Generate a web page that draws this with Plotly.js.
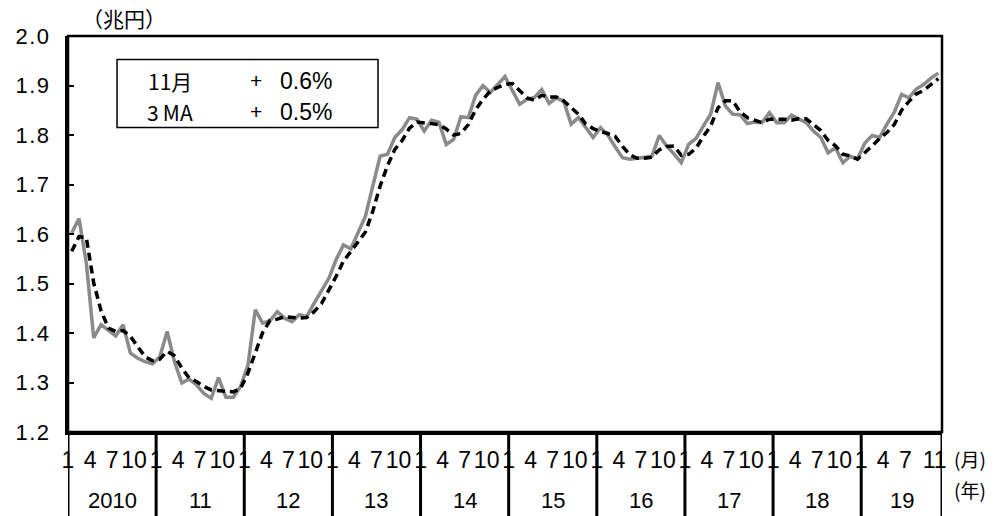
<!DOCTYPE html>
<html>
<head>
<meta charset="utf-8">
<script src="https://cdn.plot.ly/plotly-3.0.1.min.js"></script>
<style>
html,body{margin:0;padding:0;background:#fff;}
#chart{width:996px;height:516px;}
.ytick text{letter-spacing:1.5px;}
</style>
</head>
<body>
<div id="chart"></div>
<script>
// ---- data ----
var years = ["2010","11","12","13","14","15","16","17","18","19"];
var monthTickLabels = ["1","4","7","10"];
var lastMonthTickLabels = ["1","4","7","11"];

var actual = [
  1.602,1.631,1.541,1.390,1.417,1.406,1.394,1.417,1.359,1.349,1.342,1.338,
  1.352,1.403,1.342,1.299,1.307,1.295,1.278,1.268,1.310,1.270,1.270,1.292,
  1.335,1.447,1.420,1.425,1.443,1.430,1.423,1.437,1.433,1.460,1.485,1.510,
  1.548,1.578,1.570,1.605,1.636,1.697,1.757,1.761,1.795,1.811,1.835,1.832,
  1.808,1.830,1.826,1.781,1.791,1.837,1.835,1.880,1.900,1.886,1.903,1.918,
  1.890,1.862,1.872,1.876,1.892,1.864,1.875,1.868,1.822,1.835,1.815,1.795,
  1.815,1.800,1.776,1.754,1.751,1.753,1.755,1.757,1.799,1.778,1.762,1.744,
  1.781,1.793,1.818,1.842,1.906,1.859,1.842,1.841,1.823,1.826,1.825,1.845,
  1.825,1.825,1.840,1.833,1.825,1.808,1.795,1.764,1.774,1.744,1.757,1.752,
  1.784,1.799,1.795,1.822,1.846,1.882,1.875,1.893,1.902,1.915,1.925
];
var ma3 = [
  1.565,1.595,1.592,1.501,1.445,1.410,1.403,1.405,1.393,1.373,1.352,1.344,
  1.347,1.363,1.354,1.329,1.309,1.302,1.292,1.285,1.284,1.282,1.281,1.288,
  1.319,1.360,1.401,1.425,1.428,1.433,1.432,1.430,1.431,1.443,1.459,1.485,
  1.514,1.545,1.565,1.584,1.604,1.646,1.697,1.738,1.771,1.789,1.814,1.826,
  1.825,1.823,1.821,1.812,1.800,1.803,1.821,1.851,1.872,1.889,1.896,1.902,
  1.904,1.890,1.875,1.870,1.880,1.877,1.877,1.869,1.855,1.842,1.822,1.813,
  1.807,1.803,1.797,1.777,1.760,1.753,1.753,1.755,1.770,1.777,1.778,1.759,
  1.761,1.773,1.797,1.818,1.855,1.869,1.869,1.847,1.835,1.830,1.825,1.832,
  1.832,1.832,1.830,1.833,1.833,1.822,1.809,1.789,1.778,1.761,1.758,1.751,
  1.764,1.778,1.793,1.805,1.821,1.850,1.868,1.883,1.890,1.903,1.914
];
var yTicks = [1.2,1.3,1.4,1.5,1.6,1.7,1.8,1.9,2.0];
var legendRows = [["11月","+","0.6%"],["3\u2009MA","+","0.5%"]];

// ---- build ----
var n = actual.length;
var xs = actual.map(function(_,i){return i;});
var numFont = "Liberation Sans, Arial, sans-serif";
var jpFont = "Noto Sans CJK JP, sans-serif";

var tickvals = [], ticktext = [];
years.forEach(function(y, k){
  var labels = (k === years.length-1) ? lastMonthTickLabels : monthTickLabels;
  labels.forEach(function(m){
    tickvals.push(k*12 + parseInt(m,10) - 1 - 0.5);
    ticktext.push(m);
  });
});

var shapes = [];
var annotations = [];
// year dividers below the axis
for (var k=0; k<=years.length; k++){
  var xv = Math.min(k*12, n) - 0.5;
  shapes.push({type:'line', xref:'x', yref:'paper', x0:xv, x1:xv, y0:0, y1:-0.25,
    line:{color:'#000', width:3}});
}
// year labels
years.forEach(function(y,k){
  var s = k*12, e = Math.min(k*12+12, n);
  annotations.push({xref:'x', yref:'paper', x:(s+e-1)/2, y:-0.1742, text:y, showarrow:false,
    xanchor:'center', yanchor:'middle', borderpad:0,
    font:{family:numFont, size:22, color:'#000'}});
});
// plot frame
shapes.push({type:'rect', xref:'paper', yref:'paper', x0:0, x1:1, y0:0, y1:1,
  line:{color:'#000', width:2.5}});
// legend box
shapes.push({type:'rect', xref:'paper', yref:'paper', x0:0.0561, x1:0.3547, y0:0.7692, y1:0.9409,
  line:{color:'#000', width:1.5}, fillcolor:'rgba(0,0,0,0)'});
legendRows.forEach(function(r, j){
  var py = j===0 ? 0.8865 : 0.8081;
  annotations.push({xref:'paper', yref:'paper', x:0.1167, y:py, text:r[0], showarrow:false,
    xanchor:'center', yanchor:'middle', font:{family:jpFont, size:21, color:'#000'}});
  annotations.push({xref:'paper', yref:'paper', x:0.2155, y:py, text:r[1], showarrow:false,
    xanchor:'center', yanchor:'middle', font:{family:numFont, size:21, color:'#000'}});
  annotations.push({xref:'paper', yref:'paper', x:0.2400, y:py, text:r[2], showarrow:false,
    xanchor:'left', yanchor:'middle', font:{family:numFont, size:23, color:'#000'}});
});
// unit labels
annotations.push({xref:'paper', yref:'paper', x:0.064, y:1.0455, text:'（兆円）', showarrow:false,
  xanchor:'center', yanchor:'middle', font:{family:jpFont, size:21, color:'#000'}});
annotations.push({xref:'paper', yref:'paper', x:1.0, y:-0.068, text:'(月)', showarrow:false,
  xanchor:'left', yanchor:'middle', xshift:10, font:{family:jpFont, size:19, color:'#000'}});
annotations.push({xref:'paper', yref:'paper', x:1.0, y:-0.144, text:'(年)', showarrow:false,
  xanchor:'left', yanchor:'middle', xshift:10, font:{family:jpFont, size:19, color:'#000'}});

var traces = [
  {x:xs, y:actual, type:'scatter', mode:'lines', name:'actual',
   line:{color:'#8a8a8a', width:3.5}, hoverinfo:'skip'},
  {x:xs, y:ma3, type:'scatter', mode:'lines', name:'3MA',
   line:{color:'#000', width:3.5, dash:'8px,5px'}, hoverinfo:'skip'}
];

var layout = {
  width:996, height:516,
  margin:{l:68, r:54, t:36, b:84, pad:0},
  paper_bgcolor:'#fff', plot_bgcolor:'#fff',
  showlegend:false,
  xaxis:{range:[-0.5, n-0.5], tickmode:'array', tickvals:tickvals, ticktext:ticktext,
    showgrid:false, zeroline:false, showline:true, linecolor:'#000', linewidth:3,
    ticks:'', ticklabelstandoff:5, tickangle:0,
    tickfont:{family:numFont, size:23, color:'#000'}},
  yaxis:{range:[1.2, 2.0], tickmode:'array', tickvals:yTicks,
    ticktext:yTicks.map(function(v){return v.toFixed(1);}),
    showgrid:false, zeroline:false, showline:true, linecolor:'#000', linewidth:3,
    ticks:'inside', ticklen:6, tickwidth:2, tickcolor:'#000', ticklabelstandoff:10,
    tickfont:{family:numFont, size:22, color:'#000'}},
  shapes:shapes,
  annotations:annotations
};

Plotly.newPlot('chart', traces, layout, {staticPlot:true, displayModeBar:false});
</script>
</body>
</html>
